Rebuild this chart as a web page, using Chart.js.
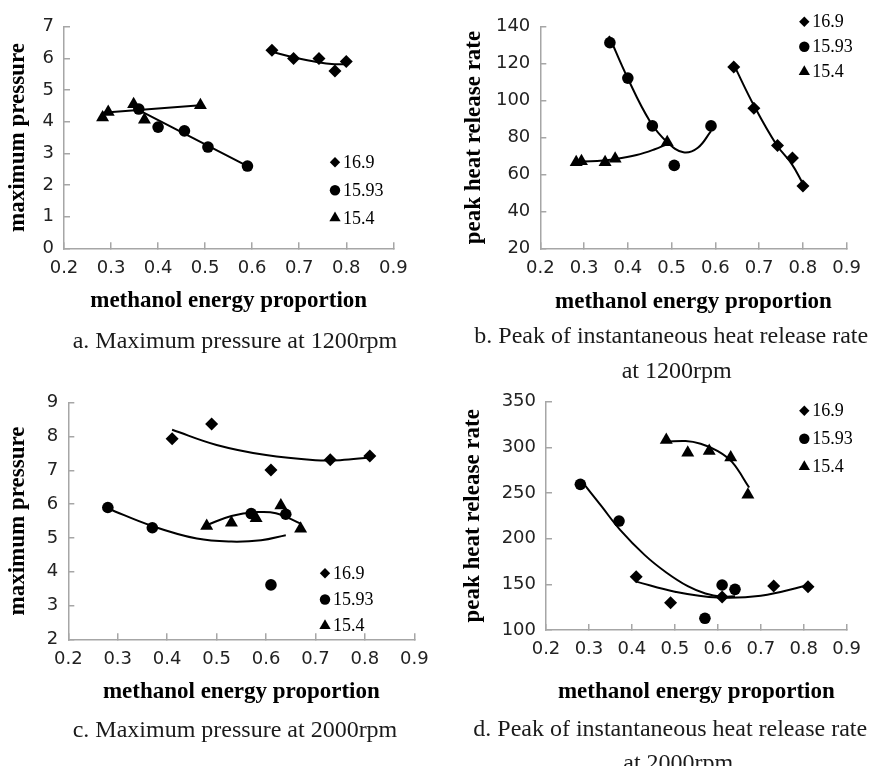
<!DOCTYPE html>
<html>
<head>
<meta charset="utf-8">
<script src="https://cdn.jsdelivr.net/npm/chart.js@4.4.0/dist/chart.umd.min.js"></script>
<style>
  html, body { margin: 0; padding: 0; background: #fff; }
  body { width: 876px; height: 766px; position: relative; overflow: hidden; }
  canvas { position: absolute; left: 0; top: 0; }
  .cap {
    position: absolute;
    font-family: "Liberation Serif", "Times New Roman", serif;
    font-size: 24px;
    line-height: 24px;
    color: #1a1a1a;
    white-space: nowrap;
  }
</style>
</head>
<body>
<canvas id="chartA" width="876" height="766"></canvas>
<canvas id="chartB" width="876" height="766"></canvas>
<canvas id="chartC" width="876" height="766"></canvas>
<canvas id="chartD" width="876" height="766"></canvas>

<div class="cap" style="left:72.7px;top:328px">a. Maximum pressure at 1200rpm</div>
<div class="cap" style="left:474.3px;top:323px">b. Peak of instantaneous heat release rate</div>
<div class="cap" style="left:621.7px;top:358px">at 1200rpm</div>
<div class="cap" style="left:72.7px;top:716.6px">c. Maximum pressure at 2000rpm</div>
<div class="cap" style="left:473.3px;top:716px">d. Peak of instantaneous heat release rate</div>
<div class="cap" style="left:623.3px;top:750px">at 2000rpm</div>

<script>
// legend names (compression ratio)
var seriesNames = ['16.9', '15.93', '15.4'];

// x axis ticks (methanol energy proportion)
var xTickValues = [0.2, 0.3, 0.4, 0.5, 0.6, 0.7, 0.8, 0.9];
var yTicksA = [0, 1, 2, 3, 4, 5, 6, 7];
var yTicksB = [20, 40, 60, 80, 100, 120, 140];
var yTicksC = [2, 3, 4, 5, 6, 7, 8, 9];
var yTicksD = [100, 150, 200, 250, 300, 350];

// 1200 rpm measured points
var x169_1200 = [0.642, 0.688, 0.742, 0.776, 0.800];
var x1593_1200 = [0.359, 0.400, 0.456, 0.506, 0.590];
var x154_1200 = [0.282, 0.294, 0.348, 0.371, 0.490];
var pmax169_1200 = [6.26, 6.00, 6.00, 5.60, 5.90];
var pmax1593_1200 = [4.40, 3.83, 3.71, 3.20, 2.60];
var pmax154_1200 = [4.13, 4.31, 4.55, 4.06, 4.52];
var hrr169_1200 = [118.2, 95.9, 75.7, 68.9, 53.8];
var hrr1593_1200 = [131.4, 112.2, 86.3, 64.9, 86.3];
var hrr154_1200 = [66.6, 67.1, 66.6, 68.5, 77.4];

// 2000 rpm measured points
var x169_2000 = [0.41, 0.49, 0.61, 0.73, 0.81];
var x1593_2000 = [0.28, 0.37, 0.57, 0.61, 0.64];
var x154_2000 = [0.48, 0.53, 0.58, 0.63, 0.67];
var pmax169_2000 = [7.93, 8.37, 7.01, 7.31, 7.42];
var pmax1593_2000 = [5.90, 5.30, 5.72, 3.61, 5.70];
var pmax154_2000 = [5.35, 5.45, 5.58, 5.96, 5.27];
var hrr169_2000 = [158.4, 129.9, 136.0, 148.2, 147.4];
var hrr1593_2000 = [259.5, 219.3, 112.8, 149.3, 144.5];
var hrr154_2000 = [308, 294, 296, 289, 248];

// trend lines
var fitA169x = [0.642, 0.69, 0.74, 0.775, 0.80];
var fitA169y = [6.21, 6.03, 5.88, 5.82, 5.82];
var fitA1593x = [0.359, 0.59];
var fitA1593y = [4.37, 2.60];
var fitA154x = [0.282, 0.49];
var fitA154y = [4.28, 4.52];

var fitB169x = [0.642, 0.69, 0.74, 0.775, 0.80];
var fitB169y = [119.5, 96.5, 76, 65.5, 55];
var fitB1593x = [0.357, 0.40, 0.45, 0.49, 0.527, 0.56, 0.59];
var fitB1593y = [135, 112, 89, 77.5, 72, 74.5, 83.5];
var fitB154x = [0.28, 0.33, 0.37, 0.42, 0.46, 0.49];
var fitB154y = [67, 67.3, 68.3, 70.5, 73.5, 76.5];

var fitC169x = [0.41, 0.5, 0.6, 0.7, 0.75, 0.81];
var fitC169y = [8.2, 7.75, 7.45, 7.3, 7.3, 7.38];
var fitC1593x = [0.28, 0.37, 0.46, 0.53, 0.59, 0.64];
var fitC1593y = [5.87, 5.35, 4.98, 4.89, 4.93, 5.08];
var fitC154x = [0.48, 0.53, 0.58, 0.62, 0.67];
var fitC154y = [5.38, 5.65, 5.76, 5.73, 5.42];

var fitD169x = [0.41, 0.5, 0.6, 0.7, 0.81];
var fitD169y = [153, 142, 135.5, 137.5, 149];
var fitD1593x = [0.28, 0.33, 0.372, 0.43, 0.48, 0.53, 0.571, 0.61, 0.64];
var fitD1593y = [265, 235, 210, 182, 163, 148, 140, 136.5, 137];
var fitD154x = [0.48, 0.525, 0.56, 0.6, 0.633, 0.673];
var fitD154y = [306, 307, 304, 296, 284, 256];

var W = 876, H = 766;
var AXIS_COLOR = '#a6a6a6';
var TITLE_FONT = { family: '"Liberation Serif", "Times New Roman", serif', size: 23, weight: 'bold' };
var TICK_FONT = { family: '"DejaVu Sans", sans-serif', size: 18 };

var markerStyles = [
  { style: 'diamond', radius: 6.5, legendRadius: 5.2 },
  { style: 'circle', radius: 5.8, legendRadius: 5.2 },
  { style: 'triangle', radius: 7.5, legendRadius: 6.5 }
];
var chartStyles = { diamond: 'rectRot', circle: 'circle', triangle: 'triangle' };

function zip(xs, ys) {
  return xs.map(function (x, i) { return { x: x, y: ys[i] }; });
}

function drawMarker(ctx, style, x, y, r) {
  ctx.beginPath();
  if (style === 'diamond') {
    ctx.moveTo(x, y - r);
    ctx.lineTo(x + r, y);
    ctx.lineTo(x, y + r);
    ctx.lineTo(x - r, y);
  } else if (style === 'circle') {
    ctx.arc(x, y, r, 0, Math.PI * 2);
  } else {
    ctx.moveTo(x, y - r);
    ctx.lineTo(x + r * 0.866, y + r / 2);
    ctx.lineTo(x - r * 0.866, y + r / 2);
  }
  ctx.closePath();
  ctx.fill();
}

// small legend drawn at a fixed spot inside the plot, like the original
var cornerLegend = {
  id: 'cornerLegend',
  afterDatasetsDraw: function (chart, args, opts) {
    if (!opts || opts.x === undefined) return;
    var ctx = chart.ctx;
    ctx.save();
    ctx.fillStyle = '#000';
    ctx.font = '18px "Liberation Serif", "Times New Roman", serif';
    ctx.textBaseline = 'middle';
    seriesNames.forEach(function (name, i) {
      var y = opts.y + i * opts.dy;
      drawMarker(ctx, markerStyles[i].style, opts.x, y, markerStyles[i].legendRadius);
      ctx.fillText(name, opts.x + 8, y + 1);
    });
    ctx.restore();
  }
};

function buildChart(id, g, yTicks, yTitle, points, fits) {
  var lh = TITLE_FONT.size * 1.2;
  var yAxisW = g.left - (g.yTitleX - lh / 2);
  var xAxisH = (g.xTitleY + lh / 2) - g.bottom;

  var datasets = [];
  points.forEach(function (p, i) {
    datasets.push({
      label: seriesNames[i],
      data: zip(p[0], p[1]),
      showLine: false,
      pointStyle: chartStyles[markerStyles[i].style],
      pointRadius: markerStyles[i].radius,
      backgroundColor: '#000',
      borderColor: '#000',
      borderWidth: 0
    });
  });
  fits.forEach(function (f) {
    datasets.push({
      label: 'trend',
      data: zip(f[0], f[1]),
      showLine: true,
      pointRadius: 0,
      borderColor: '#000',
      borderWidth: 2,
      tension: 0.4,
      fill: false
    });
  });

  return new Chart(document.getElementById(id), {
    type: 'scatter',
    data: { datasets: datasets },
    plugins: [cornerLegend],
    options: {
      responsive: false,
      animation: false,
      devicePixelRatio: 1,
      events: [],
      layout: {
        padding: {
          left: g.left - yAxisW,
          top: g.top,
          right: W - g.right,
          bottom: H - g.bottom - xAxisH
        }
      },
      plugins: {
        legend: { display: false },
        tooltip: { enabled: false },
        cornerLegend: g.legend
      },
      scales: {
        x: {
          type: 'linear',
          min: xTickValues[0],
          max: xTickValues[xTickValues.length - 1],
          afterBuildTicks: function (scale) {
            scale.ticks = xTickValues.map(function (v) { return { value: v }; });
          },
          afterFit: function (scale) { scale.height = xAxisH; },
          ticks: {
            font: TICK_FONT,
            color: '#222',
            padding: 15,
            maxRotation: 0,
            autoSkip: false,
            callback: function (v) { return Number(v).toFixed(1); }
          },
          grid: { drawOnChartArea: false, drawTicks: true, tickLength: -6, color: AXIS_COLOR, lineWidth: 1.5 },
          border: { display: true, color: AXIS_COLOR, width: 1.5 },
          title: {
            display: true,
            text: 'methanol energy proportion',
            font: TITLE_FONT,
            color: '#000',
            padding: { top: 0, bottom: 0 }
          }
        },
        y: {
          type: 'linear',
          min: yTicks[0],
          max: yTicks[yTicks.length - 1],
          afterBuildTicks: function (scale) {
            scale.ticks = yTicks.map(function (v) { return { value: v }; });
          },
          afterFit: function (scale) { scale.width = yAxisW; },
          ticks: {
            font: TICK_FONT,
            color: '#222',
            padding: 16,
            autoSkip: false
          },
          grid: { drawOnChartArea: false, drawTicks: true, tickLength: -6, color: AXIS_COLOR, lineWidth: 1.5 },
          border: { display: true, color: AXIS_COLOR, width: 1.5 },
          title: {
            display: true,
            text: yTitle,
            font: TITLE_FONT,
            color: '#000',
            padding: { top: 0, bottom: 0 }
          }
        }
      }
    }
  });
}

buildChart('chartA',
  { left: 64, right: 393.3, top: 24, bottom: 248.3, yTitleX: 18.3, xTitleY: 301,
    legend: { x: 335, y: 162.3, dy: 27.9 } },
  yTicksA, 'maximum pressure',
  [[x169_1200, pmax169_1200], [x1593_1200, pmax1593_1200], [x154_1200, pmax154_1200]],
  [[fitA169x, fitA169y], [fitA1593x, fitA1593y], [fitA154x, fitA154y]]);

buildChart('chartB',
  { left: 540.3, right: 857.7, top: 15, bottom: 248.3, yTitleX: 474.3, xTitleY: 301.7,
    legend: { x: 804.3, y: 21.7, dy: 25 } },
  yTicksB, 'peak heat release rate',
  [[x169_1200, hrr169_1200], [x1593_1200, hrr1593_1200], [x154_1200, hrr154_1200]],
  [[fitB169x, fitB169y], [fitB1593x, fitB1593y], [fitB154x, fitB154y]]);

buildChart('chartC',
  { left: 68.3, right: 414.3, top: 402.7, bottom: 639.3, yTitleX: 18.3, xTitleY: 691.7,
    legend: { x: 325, y: 573.3, dy: 26.2 } },
  yTicksC, 'maximum pressure',
  [[x169_2000, pmax169_2000], [x1593_2000, pmax1593_2000], [x154_2000, pmax154_2000]],
  [[fitC169x, fitC169y], [fitC1593x, fitC1593y], [fitC154x, fitC154y]]);

buildChart('chartD',
  { left: 546, right: 854.3, top: 401.7, bottom: 630, yTitleX: 473.3, xTitleY: 691.7,
    legend: { x: 804.3, y: 410.7, dy: 28 } },
  yTicksD, 'peak heat release rate',
  [[x169_2000, hrr169_2000], [x1593_2000, hrr1593_2000], [x154_2000, hrr154_2000]],
  [[fitD169x, fitD169y], [fitD1593x, fitD1593y], [fitD154x, fitD154y]]);
</script>
</body>
</html>
